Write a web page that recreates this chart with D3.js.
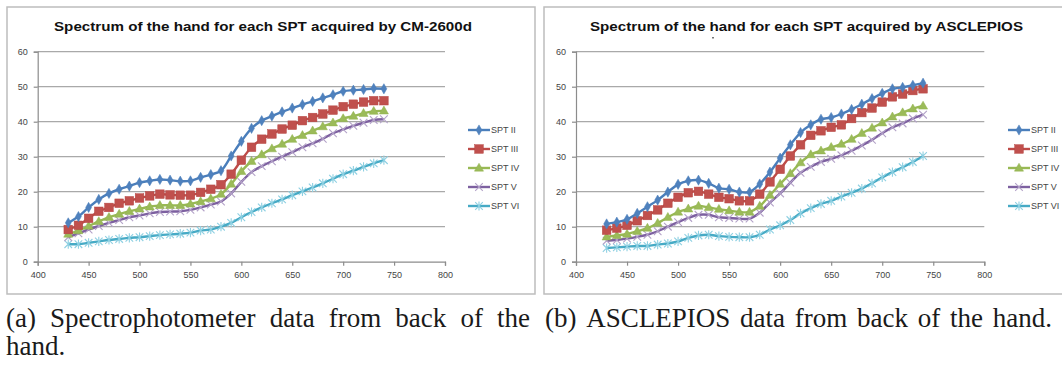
<!DOCTYPE html>
<html><head><meta charset="utf-8">
<script src="https://cdn.jsdelivr.net/npm/d3@7"></script>
<style>body{margin:0;background:#fff}svg{display:block}</style>
</head><body>
<svg id="c" width="1062" height="367"></svg>
<script>
const wavelengths = d3.range(430, 741, 10);
const seriesNames = ["SPT II", "SPT III", "SPT IV", "SPT V", "SPT VI"];
const xTicks = [400, 450, 500, 550, 600, 650, 700, 750, 800];
const yTicks = [0, 10, 20, 30, 40, 50, 60];

// CM-2600d (left)
const cmSPT2 = [11.1,12.9,15.5,17.8,19.5,20.7,21.6,22.6,23.1,23.5,23.3,23.0,23.1,24.1,24.9,26.0,30.2,34.4,38.1,40.3,41.6,42.8,43.9,44.9,45.8,46.8,47.7,48.7,49.0,49.2,49.5,49.4];
const cmSPT3 = [9.2,10.4,12.4,14.4,15.5,16.7,17.4,18.2,18.8,19.3,19.1,19.0,19.0,19.8,20.7,22.0,25.0,29.0,32.7,35.0,36.5,37.9,39.0,40.3,41.2,42.2,43.3,44.3,45.0,45.6,46.0,46.0];
const cmSPT4 = [7.9,8.9,10.2,11.5,12.7,13.6,14.4,15.1,15.7,16.1,16.1,16.1,16.5,17.2,18.0,19.3,22.2,25.8,28.7,30.6,32.3,33.6,35.0,36.1,37.4,38.6,39.7,40.9,41.6,42.4,43.0,43.1];
const cmSPT5 = [7.0,8.1,9.2,10.2,11.1,11.9,12.7,13.2,13.8,14.2,14.3,14.4,14.8,15.5,16.3,17.2,19.5,22.8,25.6,27.3,28.7,30.0,31.3,32.7,33.8,35.1,36.7,37.8,38.8,39.7,40.5,40.7];
const cmSPT6 = [5.0,5.0,5.4,5.8,6.2,6.5,6.8,7.0,7.3,7.6,7.8,8.0,8.3,8.9,9.2,10.0,11.1,12.7,14.2,15.5,16.7,17.8,19.0,20.1,21.2,22.4,23.7,25.0,26.0,27.1,28.1,29.0];

// ASCLEPIOS (right)
const ascSPT2 = [10.8,11.3,12.1,13.8,15.7,17.6,19.9,22.1,23.1,23.3,22.4,21.0,20.7,19.9,19.9,22.2,25.6,29.6,33.4,36.9,39.1,40.7,41.2,42.2,43.5,45.0,46.6,48.1,49.4,49.8,50.4,51.0];
const ascSPT3 = [9.0,9.6,10.4,11.7,13.2,14.8,16.7,18.4,19.7,20.1,19.3,18.4,18.0,17.4,17.4,19.3,22.8,26.4,30.2,33.4,36.1,37.4,38.4,39.1,40.9,42.6,43.9,45.6,47.1,47.9,48.9,49.4];
const ascSPT4 = [7.1,7.5,7.9,8.7,9.6,11.0,12.7,14.2,15.1,15.9,15.5,15.0,14.6,14.2,14.2,15.9,19.0,22.2,25.2,28.3,30.6,31.7,32.7,33.6,35.0,36.7,38.2,39.7,41.4,42.6,43.7,44.5];
const ascSPT5 = [6.0,6.2,6.6,7.1,7.7,8.7,10.0,11.3,12.5,13.4,13.4,12.7,12.5,12.3,12.3,14.0,16.9,19.5,22.6,25.4,27.1,28.5,29.4,30.4,31.7,33.2,34.8,36.7,38.4,39.5,40.9,42.0];
const ascSPT6 = [3.9,4.1,4.3,4.5,4.5,4.9,5.2,5.8,6.8,7.5,7.7,7.3,7.1,7.0,7.0,7.7,9.2,10.4,11.9,13.8,15.3,16.5,17.4,18.6,19.7,20.9,22.4,24.1,25.6,27.0,28.5,30.2];

const lineColors = ["#4A7EBB", "#BE4B48", "#98B954", "#7D60A0", "#46AAC5"];
const markerFill = ["#4F81BD", "#C0504D", "#9BBB59", "#8064A2", "#4BACC6"];

const svg = d3.select("#c");

function marker(g, i, x, y) {
  const c = markerFill[i];
  if (i === 0) {
    g.append("path").attr("d", d3.symbol(d3.symbolDiamond, 30)()).attr("transform", `translate(${x},${y})`)
      .attr("fill", c).attr("stroke", lineColors[0]).attr("stroke-width", 0.5);
  } else if (i === 1) {
    g.append("rect").attr("x", x - 4.3).attr("y", y - 4.3).attr("width", 8.6).attr("height", 8.6)
      .attr("fill", c).attr("stroke", "#B64643").attr("stroke-width", 0.5);
  } else if (i === 2) {
    g.append("path").attr("d", d3.symbol(d3.symbolTriangle, 36)()).attr("transform", `translate(${x},${y+0.5})`)
      .attr("fill", c).attr("stroke", "#91B24F").attr("stroke-width", 0.5);
  } else if (i === 3) {
    const s = 3.8;
    g.append("path").attr("d", `M${x-s},${y-s}L${x+s},${y+s}M${x-s},${y+s}L${x+s},${y-s}`)
      .attr("stroke", "#B3A2C8").attr("stroke-width", 1.1).attr("fill", "none");
  } else {
    const s = 3.8;
    g.append("path").attr("d", `M${x-s},${y-s}L${x+s},${y+s}M${x-s},${y+s}L${x+s},${y-s}M${x},${y-s-0.8}L${x},${y+s+0.8}`)
      .attr("stroke", "#8ED0E2").attr("stroke-width", 1.1).attr("fill", "none");
  }
}

function drawChart(o) {
  const g = svg.append("g");
  g.append("rect").attr("x", o.fx).attr("y", o.fy).attr("width", o.fw).attr("height", o.fh)
    .attr("fill", "#fff").attr("stroke", "#BDBDBD").attr("stroke-width", 1.5);
  const x = d3.scaleLinear().domain([400, 800]).range([o.x0, o.x1]);
  const y = d3.scaleLinear().domain([0, 60]).range([261.7, 51.7]);
  g.append("g").selectAll("line").data(yTicks.filter(d => d > 0)).join("line")
    .attr("x1", o.x0).attr("x2", o.x1).attr("y1", d => y(d)).attr("y2", d => y(d))
    .attr("stroke", "#A9A9A9").attr("stroke-width", 1.2);
  const ax = g.append("g").attr("transform", `translate(0,${y(0)})`)
    .call(d3.axisBottom(x).tickValues(xTicks).tickSize(4).tickPadding(6).tickFormat(d3.format("d")));
  const ay = g.append("g").attr("transform", `translate(${o.x0},0)`)
    .call(d3.axisLeft(y).tickValues(yTicks).tickSize(4).tickPadding(6));
  [ax, ay].forEach(a => {
    a.select(".domain").attr("stroke", "#8C8C8C").attr("stroke-width", 1.2);
    a.selectAll(".tick line").attr("stroke", "#8C8C8C").attr("stroke-width", 1.2);
    a.selectAll(".tick text").attr("font-family", "Liberation Sans, Arial, sans-serif")
      .attr("font-size", 9).attr("fill", "#444");
  });
  g.append("text").attr("x", o.tx).attr("y", 31).attr("font-family", "Liberation Sans, Arial, sans-serif")
    .attr("font-weight", "bold").attr("font-size", 13.5).attr("fill", "#111")
    .attr("textLength", o.tw).attr("lengthAdjust", "spacingAndGlyphs").text(o.title);
  const line = d3.line().curve(d3.curveCatmullRom.alpha(0.5)).x((d, i) => x(wavelengths[i])).y(d => y(d));
  [4, 3, 2, 1, 0].forEach(i => {
    const vals = o.series[i];
    g.append("path").datum(vals).attr("d", line).attr("fill", "none")
      .attr("stroke", lineColors[i]).attr("stroke-width", 2.4);
    const mg = g.append("g");
    vals.forEach((v, k) => marker(mg, i, x(wavelengths[k]), y(v)));
  });
  const ly = [130, 149, 168, 187, 206];
  seriesNames.forEach((n, i) => {
    const lg = g.append("g");
    lg.append("line").attr("x1", o.lx).attr("x2", o.lx + 22).attr("y1", ly[i]).attr("y2", ly[i])
      .attr("stroke", lineColors[i]).attr("stroke-width", 2.4);
    marker(lg, i, o.lx + 11, ly[i]);
    lg.append("text").attr("x", o.lx + 23).attr("y", ly[i] + 3.2)
      .attr("font-family", "Liberation Sans, Arial, sans-serif").attr("font-size", 9).attr("fill", "#444").text(n);
  });
}

drawChart({fx: 7, fy: 7, fw: 528, fh: 287, x0: 37.7, x1: 445, tx: 54, tw: 418, lx: 468,
  title: "Spectrum of the hand for each SPT acquired by CM-2600d",
  series: [cmSPT2, cmSPT3, cmSPT4, cmSPT5, cmSPT6]});
drawChart({fx: 544, fy: 7, fw: 530, fh: 287, x0: 576, x1: 984.3, tx: 590, tw: 433, lx: 1008,
  title: "Spectrum of the hand for each SPT acquired by ASCLEPIOS",
  series: [ascSPT2, ascSPT3, ascSPT4, ascSPT5, ascSPT6]});
svg.append("rect").attr("x", 712).attr("y", 37).attr("width", 2).attr("height", 1.5).attr("fill", "#777");

// captions: justified words
const capFont = "Liberation Serif, 'DejaVu Serif', serif";
const probe = svg.append("text").attr("font-family", capFont).attr("font-size", 20)
  .text("(b) ASCLEPIOS data from back of the hand.");
const fs = 20 * 485 / probe.node().getComputedTextLength();
probe.remove();
function justify(words, x0, x1, base) {
  const ts = words.map(w => svg.append("text").attr("font-family", capFont).attr("font-size", fs)
    .attr("fill", "#1a1a1a").text(w));
  const ws = ts.map(t => t.node().getComputedTextLength());
  const gap = (x1 - x0 - d3.sum(ws)) / (words.length - 1);
  let cx = x0;
  ts.forEach((t, i) => { t.attr("x", cx).attr("y", base); cx += ws[i] + gap; });
}
justify(["(a)", "Spectrophotometer", "data", "from", "back", "of", "the"], 6, 530, 327);
justify(["(b)", "ASCLEPIOS", "data", "from", "back", "of", "the", "hand."], 545, 1052, 327);
svg.append("text").attr("x", 6).attr("y", 355).attr("font-family", capFont)
  .attr("font-size", fs).attr("fill", "#1a1a1a").text("hand.");
</script>
</body></html>
